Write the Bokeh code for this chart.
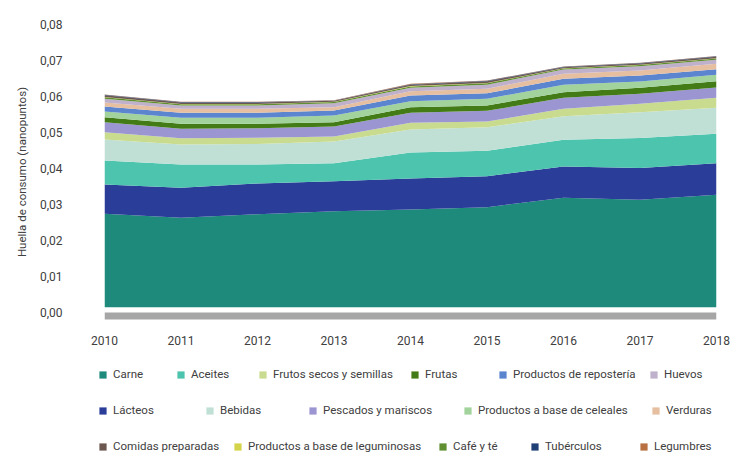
from bokeh.plotting import figure
from bokeh.layouts import column
from bokeh.models import (ColumnDataSource, Range1d, LinearAxis, FixedTicker,
                          Legend, LegendItem, BoxAnnotation, CustomJSTickFormatter)
from bokeh.embed import file_html
from bokeh.resources import INLINE

# Huella de consumo por grupo de alimentos (nanopuntos), 2010-2018
years = [2010, 2011, 2012, 2013, 2014, 2015, 2016, 2017, 2018]

carne        = [0.02590, 0.02479, 0.02579, 0.02662, 0.02709, 0.02773, 0.03034, 0.02978, 0.03117]
lacteos      = [0.00813, 0.00832, 0.00851, 0.00832, 0.00860, 0.00860, 0.00868, 0.00882, 0.00876]
aceites      = [0.00666, 0.00646, 0.00527, 0.00499, 0.00721, 0.00704, 0.00740, 0.00832, 0.00815]
bebidas      = [0.00582, 0.00555, 0.00568, 0.00602, 0.00638, 0.00654, 0.00654, 0.00715, 0.00721]
frutos_secos = [0.00202, 0.00175, 0.00172, 0.00139, 0.00186, 0.00158, 0.00205, 0.00233, 0.00277]
pescados     = [0.00277, 0.00261, 0.00266, 0.00277, 0.00277, 0.00297, 0.00305, 0.00277, 0.00286]
frutas       = [0.00139, 0.00139, 0.00122, 0.00119, 0.00155, 0.00147, 0.00155, 0.00166, 0.00175]
cereales     = [0.00158, 0.00166, 0.00166, 0.00186, 0.00166, 0.00186, 0.00205, 0.00175, 0.00177]
reposteria   = [0.00139, 0.00139, 0.00139, 0.00139, 0.00158, 0.00155, 0.00166, 0.00166, 0.00155]
verduras     = [0.00111, 0.00111, 0.00111, 0.00092, 0.00119, 0.00122, 0.00139, 0.00139, 0.00150]
huevos       = [0.00103, 0.00092, 0.00092, 0.00111, 0.00094, 0.00111, 0.00119, 0.00119, 0.00111]
cafe_te      = [0.00040, 0.00035, 0.00035, 0.00030, 0.00040, 0.00042, 0.00030, 0.00035, 0.00038]
leguminosas  = [0.00010, 0.00008, 0.00008, 0.00006, 0.00008, 0.00010, 0.00006, 0.00008, 0.00008]
comidas      = [0.00045, 0.00040, 0.00040, 0.00030, 0.00040, 0.00044, 0.00030, 0.00035, 0.00038]
tuberculos   = [0.00015, 0.00012, 0.00012, 0.00010, 0.00014, 0.00015, 0.00010, 0.00012, 0.00012]
legumbres    = [0.00010, 0.00008, 0.00008, 0.00006, 0.00008, 0.00010, 0.00006, 0.00008, 0.00008]

# (clave, etiqueta, color, valores) en orden de apilado, de abajo arriba
series = [
    ("carne", "Carne", "#1e8a7c", carne),
    ("lacteos", "Lácteos", "#2a3d99", lacteos),
    ("aceites", "Aceites", "#4dc4ad", aceites),
    ("bebidas", "Bebidas", "#c0e0d6", bebidas),
    ("frutos_secos", "Frutos secos y semillas", "#c8db8f", frutos_secos),
    ("pescados", "Pescados y mariscos", "#9b95d2", pescados),
    ("frutas", "Frutas", "#437c17", frutas),
    ("cereales", "Productos a base de celeales", "#a2d39c", cereales),
    ("reposteria", "Productos de repostería", "#5b86cf", reposteria),
    ("verduras", "Verduras", "#e6bea0", verduras),
    ("huevos", "Huevos", "#bfb0cc", huevos),
    ("cafe_te", "Café y té", "#5f8f30", cafe_te),
    ("leguminosas", "Productos a base de leguminosas", "#d4d44a", leguminosas),
    ("comidas", "Comidas preparadas", "#6b5750", comidas),
    ("tuberculos", "Tubérculos", "#1f3f75", tuberculos),
    ("legumbres", "Legumbres", "#b87040", legumbres),
]

# Filas de la leyenda
legend_rows = [
    ["Carne", "Aceites", "Frutos secos y semillas", "Frutas", "Productos de repostería", "Huevos"],
    ["Lácteos", "Bebidas", "Pescados y mariscos", "Productos a base de celeales", "Verduras"],
    ["Comidas preparadas", "Productos a base de leguminosas", "Café y té", "Tubérculos", "Legumbres"],
]
legend_x = [
    [98, 176, 258, 410, 498, 649],
    [98, 205, 308, 463, 651],
    [98, 233, 438, 530, 639],
]
legend_y = [374, 410, 446]

y_ticks = [0.0, 0.01, 0.02, 0.03, 0.04, 0.05, 0.06, 0.07, 0.08]

FONT = "Roboto"
TEXT = "#404040"

W, H = 741, 466
MAIN_H = 356                          # chart part; the legend strip fills the rest
LEFT, RIGHT, TOP, BOTTOM = 104, 716, 23, 320
PX_PER_UNIT = 288.5 / 0.08            # vertical scale of the value axis
zero_area = 306.7                     # pixel row of the stacked areas' baseline
zero_axis = 312.0                     # pixel row of the "0,00" tick
frame_h = BOTTOM - TOP

y0 = -(BOTTOM - zero_area) / PX_PER_UNIT
ya = -(BOTTOM - zero_axis) / PX_PER_UNIT

p = figure(width=W, height=MAIN_H, output_backend="svg", toolbar_location=None,
           x_range=Range1d(years[0], years[-1]),
           y_range=Range1d(y0, y0 + frame_h / PX_PER_UNIT),
           y_axis_location=None,
           min_border_left=LEFT, min_border_right=W - RIGHT,
           min_border_top=TOP, min_border_bottom=MAIN_H - BOTTOM)
p.outline_line_color = None
p.grid.visible = False
p.background_fill_color = "white"
p.border_fill_color = "white"
p.frame_align = False

data = {"year": years}
for key, _, _, vals in series:
    data[key] = vals
source = ColumnDataSource(data)

p.varea_stack(stackers=[s[0] for s in series], x="year",
              color=[s[2] for s in series], source=source)

# Barra gris del eje horizontal
p.add_layout(BoxAnnotation(left=years[0], right=years[-1],
                           bottom=y0 + (BOTTOM - 319) / PX_PER_UNIT,
                           top=y0 + (BOTTOM - 312) / PX_PER_UNIT,
                           fill_color="#a6a6a6", fill_alpha=1.0, line_color=None))

# Eje X
xa = p.xaxis[0]
xa.ticker = FixedTicker(ticks=years)
xa.axis_line_color = None
xa.major_tick_line_color = None
xa.minor_tick_line_color = None
xa.major_label_standoff = 9
xa.major_label_text_font = FONT
xa.major_label_text_font_size = "12px"
xa.major_label_text_color = TEXT

# Eje Y con rango propio para colocar las etiquetas
p.extra_y_ranges = {"lab": Range1d(ya, ya + frame_h / PX_PER_UNIT)}
yax = LinearAxis(y_range_name="lab", ticker=FixedTicker(ticks=y_ticks),
                 formatter=CustomJSTickFormatter(code="return tick.toFixed(2).replace('.', ',');"),
                 axis_label="Huella de consumo (nanopuntos)")
yax.axis_line_color = None
yax.major_tick_line_color = None
yax.minor_tick_line_color = None
yax.major_label_standoff = 36
yax.major_label_text_font = FONT
yax.major_label_text_font_size = "12px"
yax.major_label_text_color = TEXT
yax.axis_label_standoff = 8
yax.axis_label_text_font = FONT
yax.axis_label_text_font_size = "11.5px"
yax.axis_label_text_font_style = "normal"
yax.axis_label_text_color = TEXT
p.add_layout(yax, "left")

# Franja de leyenda: las mismas áreas, fuera de la vista, sólo como referencia
LEG_H = H - MAIN_H
lg_fig = figure(width=W, height=LEG_H, output_backend="svg", toolbar_location=None,
                x_range=Range1d(0, 1), y_range=Range1d(0, 1),
                x_axis_location=None, y_axis_location=None,
                min_border_left=0, min_border_right=0,
                min_border_top=0, min_border_bottom=0)
lg_fig.outline_line_color = None
lg_fig.grid.visible = False
lg_fig.background_fill_color = "white"
lg_fig.border_fill_color = "white"
lg_fig.frame_align = False
leg_renderers = lg_fig.varea_stack(stackers=[s[0] for s in series], x="year",
                                   color=[s[2] for s in series], source=source)
by_label = {s[1]: r for s, r in zip(series, leg_renderers)}

ITEM_H = 16
for row, xs, yc in zip(legend_rows, legend_x, legend_y):
    for label, xl in zip(row, xs):
        lg = Legend(items=[LegendItem(label=label, renderers=[by_label[label]])],
                    location=(xl, H - (yc + ITEM_H / 2)),
                    orientation="horizontal",
                    padding=0, margin=0, spacing=0,
                    glyph_width=9, glyph_height=9, label_height=ITEM_H,
                    label_standoff=6,
                    label_text_font=FONT, label_text_font_size="11.5px",
                    label_text_color=TEXT,
                    border_line_color=None, background_fill_alpha=0)
        lg_fig.add_layout(lg, "center")

layout = column(p, lg_fig, spacing=0)
open("out.html", "w").write(file_html(layout, INLINE))
